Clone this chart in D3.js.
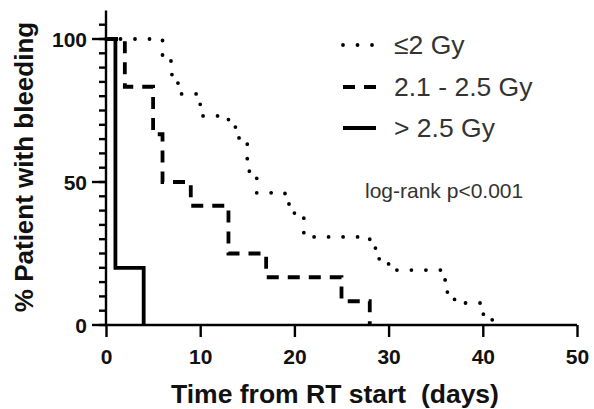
<!DOCTYPE html>
<html>
<head>
<meta charset="utf-8">
<script src="https://cdn.jsdelivr.net/npm/d3@7"></script>
<style>
  html, body { margin: 0; padding: 0; background: #fff; }
  svg { display: block; }
  text { font-family: "Liberation Sans", Arial, sans-serif; white-space: pre; }
</style>
</head>
<body>
<svg id="chart" width="594" height="409"></svg>
<script>
// ---- data ----
const seriesNames = ["≤2 Gy", "2.1 - 2.5 Gy", "> 2.5 Gy"];
const lowTimes = [0, 6, 7, 8, 10, 13, 14, 15, 16, 19, 20, 21, 28, 29, 30, 36, 37, 40, 41];
const lowSurv  = [100, 92.3, 84.6, 80.8, 73.1, 69.2, 65.4, 53.8, 46.2, 42.3, 38.5, 30.8, 26.9, 23.1, 19.2, 11.5, 7.7, 3.8, 0];
const midTimes = [0, 2, 5, 6, 9, 13, 17, 25, 28];
const midSurv  = [100, 83.3, 66.7, 50, 41.7, 25, 16.7, 8.3, 0];
const highTimes = [0, 1, 4];
const highSurv  = [100, 20, 0];
const xTicks = [0, 10, 20, 30, 40, 50];
const yMajorTicks = [0, 50, 100];
const yMinorTicks = d3.range(0, 110, 5);
const annotation = "log-rank p<0.001";
const xTitle = "Time from RT start  (days)";
const yTitle = "% Patient with bleeding";

// ---- layout ----
const svg = d3.select("#chart");
const x = d3.scaleLinear().domain([0, 50]).range([106, 577]);
const y = d3.scaleLinear().domain([0, 100]).range([325, 39]);
const yTop = y(110);

const styles = [
  { dash: "0 14.5", cap: "round", width: 3.8 },
  { dash: "12 9", cap: "butt", width: 3.8 },
  { dash: null, cap: "butt", width: 3.8 }
];

const series = [
  { t: lowTimes, s: lowSurv },
  { t: midTimes, s: midSurv },
  { t: highTimes, s: highSurv }
];

const line = d3.line()
  .x(d => x(d[0]))
  .y(d => y(d[1]))
  .curve(d3.curveStepAfter);

// axes
const gx = svg.append("g").attr("transform", `translate(0,${y(0)})`)
  .call(d3.axisBottom(x).tickValues(xTicks).tickSize(12).tickPadding(12).tickFormat(d3.format("d")));
gx.select(".domain").attr("d", `M${x(0)},0H${x(50)}`);

const gy = svg.append("g").attr("transform", `translate(${x(0)},0)`);
gy.append("line").attr("x1", 0).attr("x2", 0).attr("y1", yTop).attr("y2", y(0));
gy.selectAll(".minor").data(yMinorTicks).enter().append("line")
  .attr("class", "minor")
  .attr("x1", -7).attr("x2", 0)
  .attr("y1", d => y(d)).attr("y2", d => y(d));
gy.selectAll(".major").data(yMajorTicks).enter().append("line")
  .attr("x1", -14).attr("x2", 0)
  .attr("y1", d => y(d)).attr("y2", d => y(d));
gy.selectAll(".lbl").data(yMajorTicks).enter().append("text")
  .attr("x", -19).attr("y", d => y(d)).attr("dy", "0.36em")
  .attr("text-anchor", "end")
  .text(d => d);

[gx, gy].forEach(g => {
  g.selectAll("line, path").attr("stroke", "#000").attr("stroke-width", 2.4).attr("fill", "none");
  g.selectAll("text").attr("fill", "#111").attr("font-size", 21).attr("font-weight", "bold")
    .attr("font-family", '"Liberation Sans", Arial, sans-serif');
});

// curves
series.forEach((sr, i) => {
  const pts = sr.t.map((t, k) => [t, sr.s[k]]);
  const p = svg.append("path")
    .attr("d", line(pts))
    .attr("fill", "none")
    .attr("stroke", "#000")
    .attr("stroke-width", styles[i].width)
    .attr("stroke-linecap", styles[i].cap);
  if (styles[i].dash) p.attr("stroke-dasharray", styles[i].dash);
});

// legend
const legY = [45, 87, 128];
seriesNames.forEach((name, i) => {
  const l = svg.append("line")
    .attr("x1", 343).attr("x2", 376)
    .attr("y1", legY[i]).attr("y2", legY[i])
    .attr("stroke", "#000")
    .attr("stroke-width", styles[i].width)
    .attr("stroke-linecap", styles[i].cap);
  if (styles[i].dash) l.attr("stroke-dasharray", styles[i].dash);
  svg.append("text")
    .attr("x", 394).attr("y", legY[i] + 9)
    .attr("font-size", 26.5).attr("fill", "#333")
    .text(name);
});

svg.append("text")
  .attr("x", 365).attr("y", 198)
  .attr("font-size", 21).attr("fill", "#333")
  .text(annotation);

// titles
svg.append("text")
  .attr("x", 335).attr("y", 403)
  .attr("text-anchor", "middle")
  .attr("font-size", 26.5).attr("font-weight", "bold").attr("fill", "#111")
  .text(xTitle);

svg.append("text")
  .attr("transform", `translate(33,167) rotate(-90)`)
  .attr("text-anchor", "middle")
  .attr("font-size", 26).attr("font-weight", "bold").attr("fill", "#111")
  .text(yTitle);
</script>
</body>
</html>
